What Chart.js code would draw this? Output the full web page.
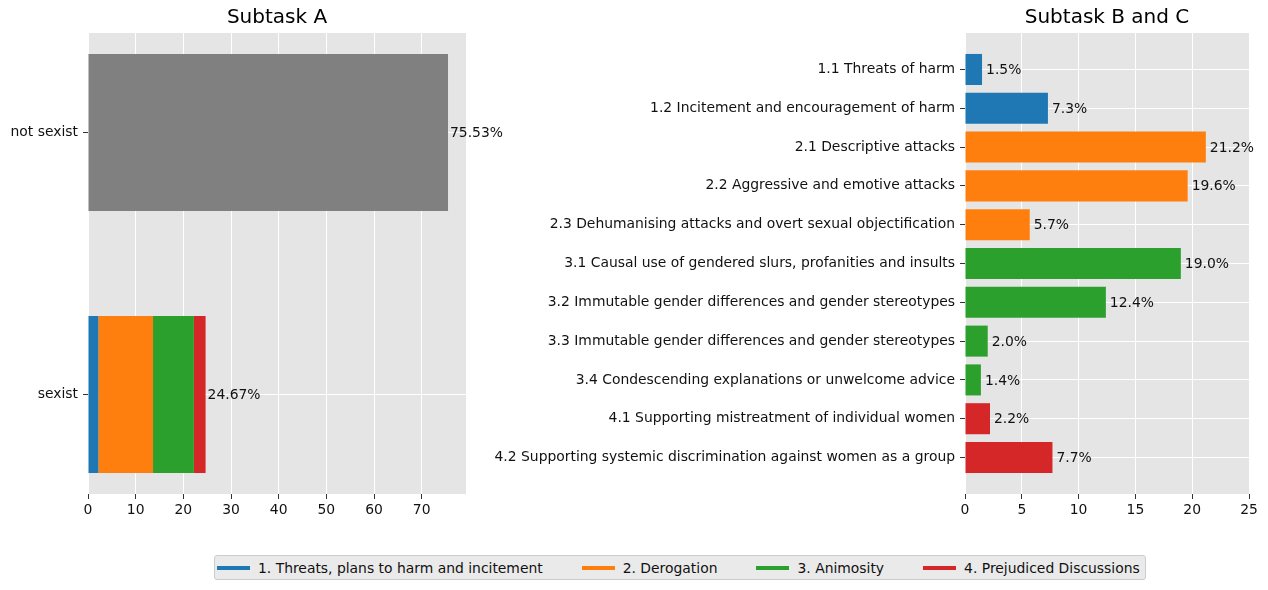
<!DOCTYPE html>
<html>
<head>
<meta charset="utf-8">
<script src="https://cdn.jsdelivr.net/npm/chart.js@4/dist/chart.umd.min.js"></script>
<style>
  body { margin: 0; background: #fff; font-family: "DejaVu Sans", sans-serif; }
  #wrap { position: relative; width: 1268px; height: 590px; }
  #chartA { position: absolute; left: 0; top: 0; }
  #chartBC { position: absolute; left: 480px; top: 0; }
  #legend {
    position: absolute; left: 214px; top: 555px; height: 25px;
    display: flex; align-items: center; gap: 39px;
    padding: 0 5px 0 2px; box-sizing: border-box;
    background: #eaeaea; border: 1px solid #cccccc; border-radius: 3px;
    font-size: 13.9px; color: #111;
  }
  .item { display: flex; align-items: center; white-space: nowrap; }
  .swatch { width: 33px; height: 4px; margin-right: 8px; }
</style>
</head>
<body>
<div id="wrap">
  <canvas id="chartA" width="540" height="540"></canvas>
  <canvas id="chartBC" width="788" height="540"></canvas>
  <div id="legend"></div>
</div>
<script>
// categories shared by both plots
var categoryNames = [
  "1. Threats, plans to harm and incitement",
  "2. Derogation",
  "3. Animosity",
  "4. Prejudiced Discussions"
];
var categoryColors = ["#1f77b4", "#ff7f0e", "#2ca02c", "#d62728"];

// Subtask A
var subtaskALabels = ["sexist", "not sexist"];
var notSexistValue = 75.53;
var sexistTotal = 24.67;
var sexistParts = [2.17, 11.47, 8.58, 2.45];
var xTicksA = [0, 10, 20, 30, 40, 50, 60, 70];

// Subtask B and C
var subtaskBCLabels = [
  "1.1 Threats of harm",
  "1.2 Incitement and encouragement of harm",
  "2.1 Descriptive attacks",
  "2.2 Aggressive and emotive attacks",
  "2.3 Dehumanising attacks and overt sexual objectification",
  "3.1 Causal use of gendered slurs, profanities and insults",
  "3.2 Immutable gender differences and gender stereotypes",
  "3.3 Immutable gender differences and gender stereotypes",
  "3.4 Condescending explanations or unwelcome advice",
  "4.1 Supporting mistreatment of individual women",
  "4.2 Supporting systemic discrimination against women as a group"
];
var subtaskBCValues = [1.5, 7.3, 21.2, 19.6, 5.7, 19.0, 12.4, 2.0, 1.4, 2.2, 7.7];
var subtaskBCGroup = [0, 0, 1, 1, 1, 2, 2, 2, 2, 3, 3];
var xTicksBC = [0, 5, 10, 15, 20, 25];

var textColor = "#111111";
var tickFont = { family: "DejaVu Sans", size: 13.9 };
Chart.defaults.font.family = "DejaVu Sans";
Chart.defaults.color = textColor;

// grey panel behind the plot area
var panelBg = {
  id: "panelBg",
  beforeDraw: function(chart) {
    var a = chart.chartArea, ctx = chart.ctx;
    ctx.save();
    ctx.fillStyle = "#e5e5e5";
    ctx.fillRect(a.left, a.top, a.right - a.left, a.bottom - a.top);
    ctx.restore();
  }
};

// text at the end of bars
var barText = {
  id: "barText",
  afterDatasetsDraw: function(chart, args, opts) {
    var ctx = chart.ctx;
    ctx.save();
    ctx.font = "13.9px 'DejaVu Sans'";
    ctx.fillStyle = textColor;
    ctx.textAlign = "left";
    ctx.textBaseline = "middle";
    opts.items.forEach(function(it) {
      var el = chart.getDatasetMeta(it.dataset).data[it.index];
      ctx.fillText(it.text, el.x + opts.pad, el.y + 1);
    });
    ctx.restore();
  }
};

function fixedTicks(values) {
  return function(scale) {
    scale.ticks = values.map(function(v) { return { value: v }; });
  };
}

function gridOpts() {
  return { color: "#ffffff", lineWidth: 1, tickColor: "#333333", tickLength: 5, offset: false };
}

// ---- Subtask A ----
var datasetsA = [{
  label: "not sexist",
  data: [{ x: notSexistValue, y: 1 }],
  backgroundColor: "#808080"
}];
sexistParts.forEach(function(v, i) {
  datasetsA.push({
    label: categoryNames[i],
    data: [{ x: v, y: 0 }],
    backgroundColor: categoryColors[i]
  });
});

new Chart(document.getElementById("chartA"), {
  type: "bar",
  data: { datasets: datasetsA },
  options: {
    indexAxis: "y",
    responsive: false,
    animation: false,
    devicePixelRatio: 1,
    layout: { padding: { right: 74 } },
    datasets: { bar: { barPercentage: 0.6, categoryPercentage: 1 } },
    scales: {
      x: {
        type: "linear", stacked: true, min: 0, max: 79.3,
        afterBuildTicks: fixedTicks(xTicksA),
        afterFit: function(s) { s.height = 46; },
        grid: gridOpts(), border: { display: false },
        ticks: { font: tickFont, color: textColor, padding: 3 }
      },
      y: {
        type: "linear", stacked: true, offset: false, min: -0.38, max: 1.38,
        afterBuildTicks: fixedTicks([0, 1]),
        afterFit: function(s) { s.width = 88; },
        grid: gridOpts(), border: { display: false },
        ticks: {
          font: tickFont, color: textColor, padding: 5,
          callback: function(v) { return subtaskALabels[v]; }
        }
      }
    },
    plugins: {
      legend: { display: false },
      tooltip: { enabled: false },
      title: {
        display: true, text: "Subtask A", fullSize: false,
        font: { size: 20, weight: "normal" }, color: "#000",
        padding: { top: 6, bottom: 3 }
      },
      barText: {
        pad: 2,
        items: [
          { dataset: 0, index: 0, text: notSexistValue.toFixed(2) + "%" },
          { dataset: sexistParts.length, index: 0, text: sexistTotal.toFixed(2) + "%" }
        ]
      }
    }
  },
  plugins: [panelBg, barText]
});

// ---- Subtask B and C ----
new Chart(document.getElementById("chartBC"), {
  type: "bar",
  data: {
    datasets: [{
      label: "share",
      data: subtaskBCValues.map(function(v, i) { return { x: v, y: i }; }),
      backgroundColor: subtaskBCGroup.map(function(g) { return categoryColors[g]; })
    }]
  },
  options: {
    indexAxis: "y",
    responsive: false,
    animation: false,
    devicePixelRatio: 1,
    layout: { padding: { right: 19 } },
    datasets: { bar: { barPercentage: 0.8, categoryPercentage: 1 } },
    scales: {
      x: {
        type: "linear", min: 0, max: 25,
        afterBuildTicks: fixedTicks(xTicksBC),
        afterFit: function(s) { s.height = 46; },
        grid: gridOpts(), border: { display: false },
        ticks: { font: tickFont, color: textColor, padding: 3 }
      },
      y: {
        type: "linear", reverse: true, offset: false, min: -0.94, max: 10.94,
        afterBuildTicks: fixedTicks(subtaskBCLabels.map(function(l, i) { return i; })),
        afterFit: function(s) { s.width = 485; },
        grid: gridOpts(), border: { display: false },
        ticks: {
          font: tickFont, color: textColor, padding: 5, autoSkip: false,
          callback: function(v) { return subtaskBCLabels[v]; }
        }
      }
    },
    plugins: {
      legend: { display: false },
      tooltip: { enabled: false },
      title: {
        display: true, text: "Subtask B and C", fullSize: false,
        font: { size: 20, weight: "normal" }, color: "#000",
        padding: { top: 6, bottom: 3 }
      },
      barText: {
        pad: 4,
        items: subtaskBCValues.map(function(v, i) {
          return { dataset: 0, index: i, text: v.toFixed(1) + "%" };
        })
      }
    }
  },
  plugins: [panelBg, barText]
});

// shared legend
var legend = document.getElementById("legend");
categoryNames.forEach(function(name, i) {
  var item = document.createElement("div");
  item.className = "item";
  var sw = document.createElement("span");
  sw.className = "swatch";
  sw.style.background = categoryColors[i];
  var tx = document.createElement("span");
  tx.textContent = name;
  item.appendChild(sw);
  item.appendChild(tx);
  legend.appendChild(item);
});
</script>
</body>
</html>
